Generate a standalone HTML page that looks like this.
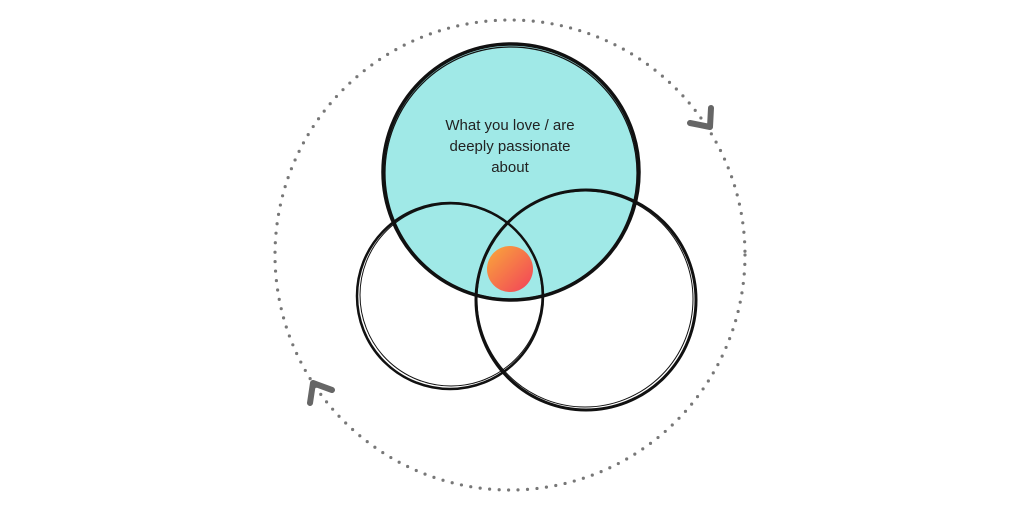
<!DOCTYPE html>
<html><head><style>body{margin:0;background:#fff}svg{display:block}</style></head><body>
<svg width="1024" height="512" viewBox="0 0 1024 512" xmlns="http://www.w3.org/2000/svg">
<defs><linearGradient id="g" x1="0" y1="0" x2="1" y2="1"><stop offset="0" stop-color="#f9a93a"/><stop offset="1" stop-color="#f2405a"/></linearGradient></defs>
<circle cx="510" cy="255" r="235" fill="none" stroke="#777" stroke-width="3.2" stroke-linecap="round" stroke-dasharray="0 9.5"/>
<circle cx="511" cy="172" r="128" fill="#a0e9e7" stroke="#111" stroke-width="3.5"/>
<circle cx="511" cy="173" r="126" fill="none" stroke="#111" stroke-width="1.2"/>
<circle cx="450" cy="296" r="93" fill="none" stroke="#111" stroke-width="2.5"/>
<circle cx="451" cy="295" r="91" fill="none" stroke="#111" stroke-width="1"/>
<circle cx="586" cy="300" r="110" fill="none" stroke="#111" stroke-width="3"/>
<circle cx="585" cy="299" r="108" fill="none" stroke="#111" stroke-width="1"/>
<circle cx="510" cy="269" r="23" fill="url(#g)"/>
<polyline points="690,123 710,127 711,108" fill="none" stroke="#666" stroke-width="6" stroke-linecap="round" stroke-linejoin="round"/>
<polyline points="310,403 313,383 332,390" fill="none" stroke="#666" stroke-width="6" stroke-linecap="round" stroke-linejoin="round"/>
<text font-family="Liberation Sans, sans-serif" font-size="15" fill="#222" text-anchor="middle"><tspan x="510" y="130">What you love / are</tspan><tspan x="510" y="151">deeply passionate</tspan><tspan x="510" y="172">about</tspan></text>
</svg>
</body></html>
